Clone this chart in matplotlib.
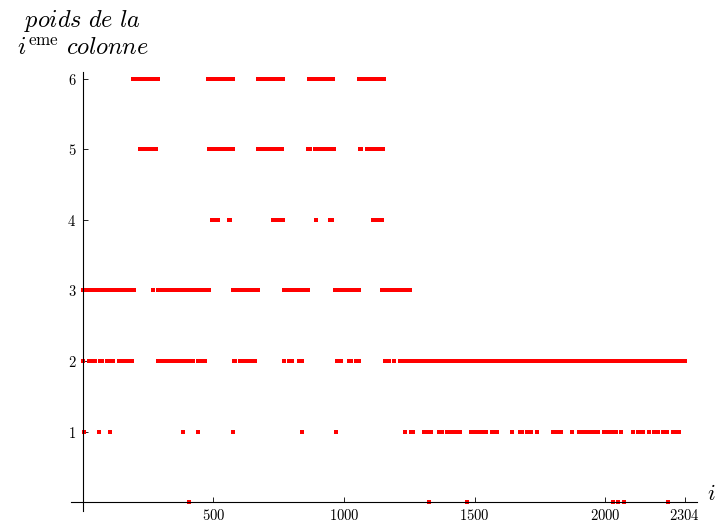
import matplotlib
matplotlib.use("Agg")
import matplotlib.pyplot as plt
import numpy as np

plt.rcParams["mathtext.fontset"] = "cm"

# column ranges (first, last) holding each weight
w6_runs = [(194, 290), (481, 577), (673, 768), (867, 960), (1058, 1152)]
w5_runs = [(219, 282), (482, 577), (673, 764), (864, 872), (891, 926),
           (942, 946), (960, 962), (1062, 1066), (1087, 1151)]
w4_runs = [(497, 505), (519, 519), (562, 566), (730, 746), (760, 768),
           (895, 895), (945, 956), (1113, 1132), (1147, 1147)]
w3_runs = [(1, 195), (271, 271), (290, 482), (577, 673), (772, 864),
           (964, 1056), (1144, 1251)]
w2_runs = [(1, 3), (26, 34), (49, 49), (65, 76), (95, 95), (110, 115),
           (141, 141), (156, 168), (183, 191), (290, 317), (332, 344),
           (359, 424), (443, 470), (581, 585), (604, 661), (769, 769),
           (788, 803), (830, 838), (975, 987), (1021, 1029), (1048, 1056),
           (1159, 1174), (1193, 1193), (1216, 2304)]
w1_runs = [(5, 5), (61, 61), (105, 105), (386, 386), (440, 440), (577, 577),
           (838, 838), (968, 968), (1235, 1235), (1255, 1266), (1308, 1335),
           (1362, 1362), (1377, 1377), (1393, 1446), (1488, 1542),
           (1568, 1584), (1643, 1643), (1672, 1683), (1702, 1717),
           (1739, 1739), (1799, 1829), (1873, 1873), (1900, 1939),
           (1955, 1974), (1997, 2016), (2031, 2043), (2062, 2062),
           (2106, 2106), (2127, 2146), (2167, 2167), (2188, 2203),
           (2222, 2222), (2238, 2238), (2261, 2269), (2284, 2284)]
w0_cols = [406, 1324, 1472, 2031, 2050, 2070, 2239]

weight_runs = {6: w6_runs, 5: w5_runs, 4: w4_runs, 3: w3_runs,
               2: w2_runs, 1: w1_runs, 0: [(c, c) for c in w0_cols]}

x_ticks = [500, 1000, 1500, 2000, 2304]
y_ticks = [1, 2, 3, 4, 5, 6]

fig = plt.figure(figsize=(7.15, 5.25), dpi=100)
ax = fig.add_axes([0, 0, 1, 1])
ax.patch.set_visible(False)

for w, runs in weight_runs.items():
    cols = np.concatenate([np.arange(a, b + 1) for a, b in runs])
    ax.plot(cols, np.full(len(cols), w), ls="none", marker="s", ms=2.2,
            mew=0, color="red", zorder=2)

ax.set_xlim(-316, 2420)
ax.set_ylim(-0.326, 7.12)

for s in ("top", "right"):
    ax.spines[s].set_visible(False)
ax.spines["left"].set_position(("data", 0))
ax.spines["bottom"].set_position(("data", 0))
ax.spines["left"].set_bounds(-0.13, 6.1)
ax.spines["bottom"].set_bounds(-44, 2350)
for s in ("left", "bottom"):
    ax.spines[s].set_linewidth(0.8)
    ax.spines[s].set_zorder(3)

ax.set_xticks(x_ticks)
ax.set_xticklabels([f"${t}$" for t in x_ticks])
ax.set_yticks(y_ticks)
ax.set_yticklabels([f"${t}$" for t in y_ticks])
ax.tick_params(axis="x", direction="in", length=3.6, width=0.6, pad=4.5,
               labelsize=10.5)
ax.tick_params(axis="y", direction="in", length=3.6, width=0.6, pad=4.5,
               labelsize=10.5)

ax.text(0, 6.74, r"$\mathit{poids\ de\ la}$", ha="center", va="baseline",
        fontsize=17.5)
ax.text(0, 6.34, r"$i^{\mathrm{eme}}\ \mathit{colonne}$", ha="center",
        va="baseline", fontsize=17.5)
ax.text(2389, 0.03, r"$i$", ha="left", va="baseline", fontsize=16)

fig.savefig("out.png", dpi=100)
